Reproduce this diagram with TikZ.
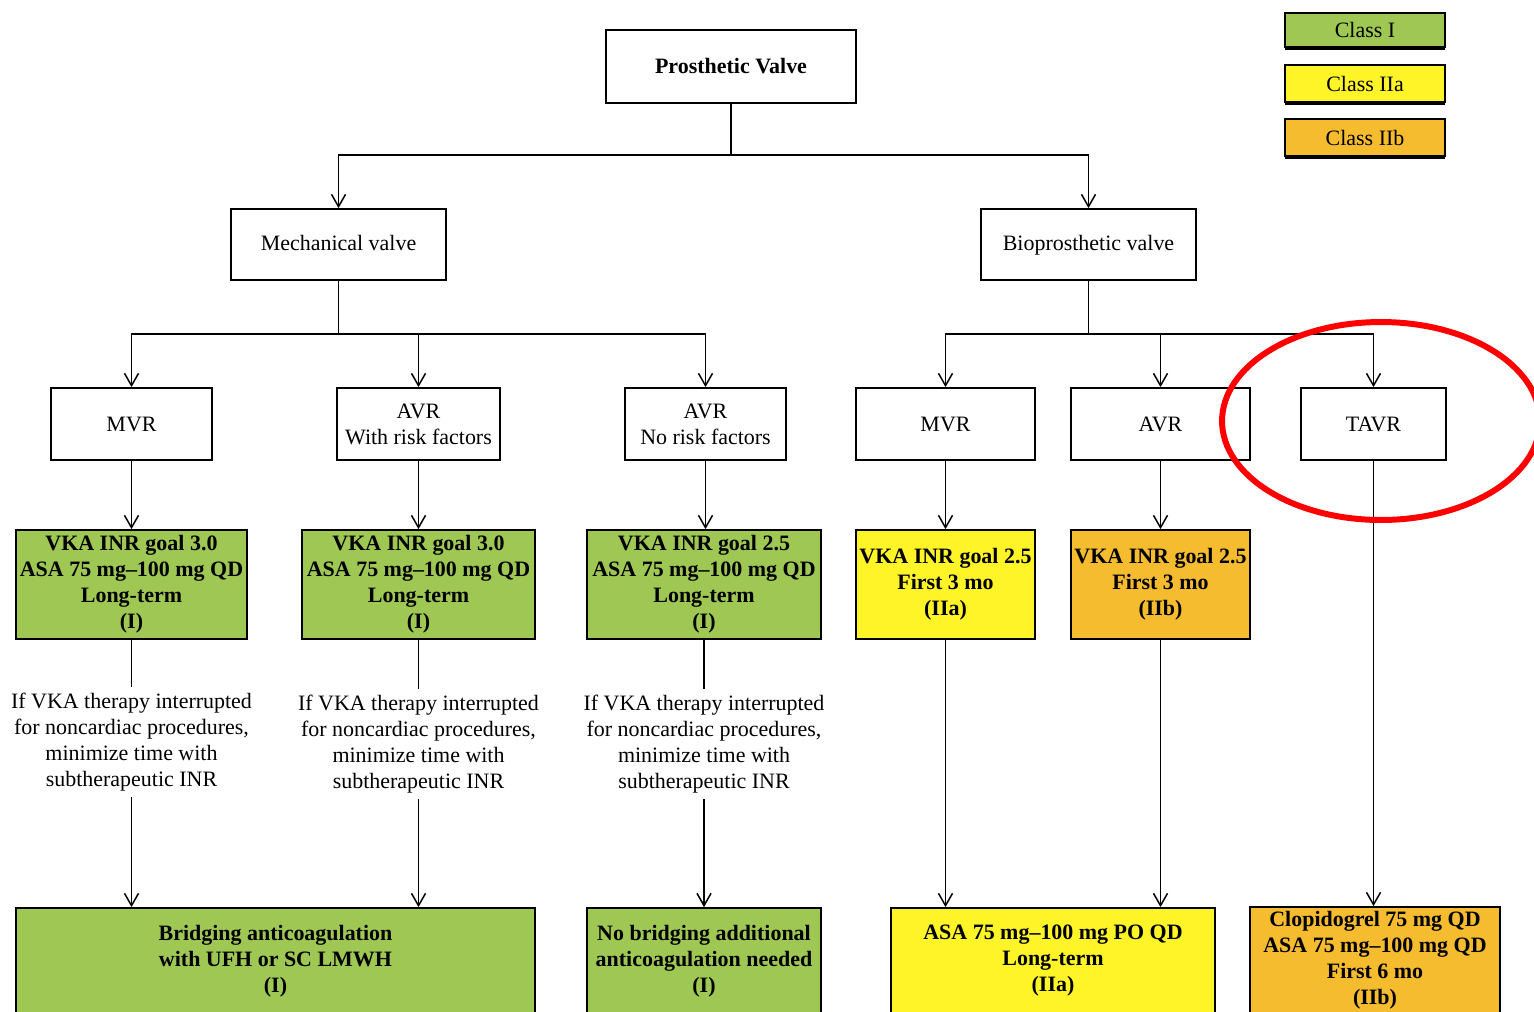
\documentclass[tikz,border=0pt]{standalone}
\usepackage{fontspec}
\setmainfont{Liberation Serif}
\usepackage{tikz}
\usetikzlibrary{arrows.meta,shadows}

\definecolor{classI}{RGB}{158,199,83}
\definecolor{classIIa}{RGB}{255,244,40}
\definecolor{classIIb}{RGB}{246,188,48}

\begin{document}
\begin{tikzpicture}[x=0.02cm, y=-0.02cm, >={Straight Barb[length=7pt,width=8pt]},
  every node/.style={font=\fontsize{12.5}{14.8}\selectfont, align=center},
  box/.style={draw, line width=1pt, inner sep=1pt},
  rec/.style={box, font=\fontsize{12.5}{14.8}\selectfont\bfseries},
  key/.style={draw, line width=1.2pt, minimum width=3.2cm, general shadow={fill=black, shadow yshift=-1.5pt}},
  link/.style={line width=0.85pt}]
  \useasboundingbox (0,0) rectangle (1534,1011);
  \clip (0,0) rectangle (1534,1011);

  % top and legend
  \node[rec, minimum width=5cm, minimum height=1.46cm] (pv) at (731,66.5) {Prosthetic Valve};
  \node[key, fill=classI, minimum height=0.68cm] (kI) at (1365,30) {Class I};
  \node[key, fill=classIIa, minimum height=0.74cm] (kIIa) at (1365,83.5) {Class IIa};
  \node[key, fill=classIIb, minimum height=0.74cm] (kIIb) at (1365,137.5) {Class IIb};

  % valve type
  \node[box, minimum width=4.3cm, minimum height=1.42cm, text height=0.68em, text depth=0pt] (mech) at (338.5,244.5) {Mechanical valve};
  \node[box, minimum width=4.3cm, minimum height=1.42cm, text height=0.68em, text depth=0pt] (bio) at (1088.5,244.5) {Bioprosthetic valve};

  % procedure
  \node[box, minimum width=3.22cm, minimum height=1.44cm] (mmvr) at (131.5,424) {MVR};
  \node[box, minimum width=3.26cm, minimum height=1.44cm] (mavrA) at (418.5,424) {AVR\\With risk factors};
  \node[box, minimum width=3.22cm, minimum height=1.44cm] (mavrB) at (705.5,424) {AVR\\No risk factors};
  \node[box, minimum width=3.58cm, minimum height=1.44cm] (bmvr) at (945.5,424) {MVR};
  \node[box, minimum width=3.58cm, minimum height=1.44cm] (bavr) at (1160.5,424) {AVR};
  \node[box, minimum width=2.9cm, minimum height=1.44cm] (tavr) at (1373.5,424) {TAVR};

  % therapy
  \node[rec, fill=classI, minimum width=4.62cm, minimum height=2.18cm] (vkaA) at (131.5,584.5)
    {VKA INR goal 3.0\\ASA 75 mg--100 mg QD\\Long-term\\(I)};
  \node[rec, fill=classI, minimum width=4.66cm, minimum height=2.18cm] (vkaB) at (418.5,584.5)
    {VKA INR goal 3.0\\ASA 75 mg--100 mg QD\\Long-term\\(I)};
  \node[rec, fill=classI, minimum width=4.68cm, minimum height=2.18cm] (vkaC) at (704,584.5)
    {VKA INR goal 2.5\\ASA 75 mg--100 mg QD\\Long-term\\(I)};
  \node[rec, fill=classIIa, minimum width=3.58cm, minimum height=2.18cm] (vkaD) at (945.5,584.5)
    {VKA INR goal 2.5\\First 3 mo\\(IIa)};
  \node[rec, fill=classIIb, minimum width=3.58cm, minimum height=2.18cm] (vkaE) at (1160.5,584.5)
    {VKA INR goal 2.5\\First 3 mo\\(IIb)};

  % notes
  \node (noteA) at (131.5,742) {If VKA therapy interrupted\\for noncardiac procedures,\\minimize time with\\subtherapeutic INR};
  \node (noteB) at (418.5,744) {If VKA therapy interrupted\\for noncardiac procedures,\\minimize time with\\subtherapeutic INR};
  \node (noteC) at (704,744) {If VKA therapy interrupted\\for noncardiac procedures,\\minimize time with\\subtherapeutic INR};

  % bottom row
  \node[rec, fill=classI, minimum width=10.38cm, minimum height=2.12cm] (bridge) at (275.5,961)
    {Bridging anticoagulation\\with UFH or SC LMWH\\(I)};
  \node[rec, fill=classI, minimum width=4.68cm, minimum height=2.12cm] (nobridge) at (704,961)
    {No bridging additional\\anticoagulation needed\\(I)};
  \node[rec, fill=classIIa, minimum width=6.48cm, minimum height=2.12cm] (asa) at (1053,961)
    {ASA 75 mg--100 mg PO QD\\Long-term\\(IIa)};
  \node[rec, fill=classIIb, minimum width=5cm, minimum height=2.12cm] (clop) at (1375,960)
    {Clopidogrel 75 mg QD\\ASA 75 mg--100 mg QD\\First 6 mo\\(IIb)};

  % tree
  \coordinate (pvj) at (731,155);
  \coordinate (mj) at (338.5,334);
  \coordinate (bj) at (1088.5,334);
  \draw[link] (pv) -- (pvj);
  \draw[link,->] (pvj) -| (mech);
  \draw[link,->] (pvj) -| (bio);
  \draw[link] (mech) -- (mj);
  \draw[link,->] (mj) -| (mmvr);
  \draw[link,->] (mj) -| (mavrA);
  \draw[link,->] (mj) -| (mavrB);
  \draw[link] (bio) -- (bj);
  \draw[link,->] (bj) -| (bmvr);
  \draw[link,->] (bj) -| (bavr);
  \draw[link,->] (bj) -| (tavr);

  \draw[link,->] (mmvr) -- (vkaA);
  \draw[link,->] (mavrA) -- (vkaB);
  \draw[link,->] (mavrB.south) -- (mavrB.south |- vkaC.north);
  \draw[link,->] (bmvr) -- (vkaD);
  \draw[link,->] (bavr) -- (vkaE);

  \draw[link] (vkaA) -- (noteA);
  \draw[link] (vkaB) -- (noteB);
  \draw[link] (vkaC) -- (noteC);
  \draw[link,->] (noteA) -- (noteA |- bridge.north);
  \draw[link,->] (noteB) -- (noteB |- bridge.north);
  \draw[link,->] (noteC) -- (nobridge);
  \draw[link,->] (vkaD) -- (vkaD |- asa.north);
  \draw[link,->] (vkaE) -- (vkaE |- asa.north);
  \draw[link,->] (tavr) -- (tavr |- clop.north);

  % highlight
  \draw[red, line width=3.4pt] (1381,421) ellipse [x radius=3.18cm, y radius=1.98cm];
\end{tikzpicture}
\end{document}
